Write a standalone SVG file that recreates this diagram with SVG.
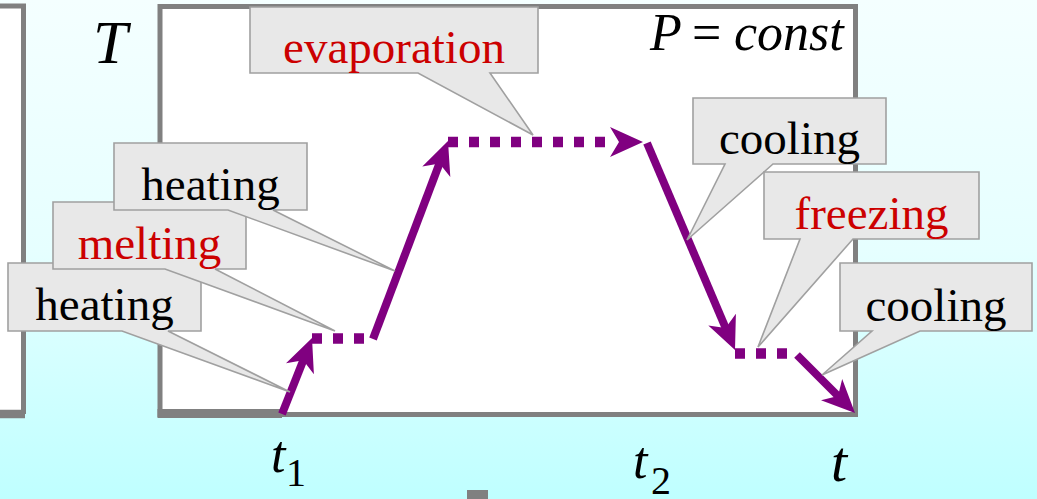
<svg xmlns="http://www.w3.org/2000/svg" width="1037" height="499" viewBox="0 0 1037 499">
<style>
.frame{fill:#ffffff;stroke:#808080;stroke-width:5}
.callout{fill:#e8e8e8;stroke:#a0a0a0;stroke-width:1.6}
.lbl{font-size:47px;text-anchor:middle}
.blk{fill:#000000}
.red{fill:#cc0000}
.math{font-style:italic;fill:#000000}
.sub{fill:#000000;font-size:40px}
.solid{fill:none;stroke:#800080;stroke-width:8}
.dots{fill:none;stroke:#800080;stroke-width:10.5;stroke-dasharray:10 11}
.head{fill:#800080}
</style>
<defs>
<linearGradient id="bg" x1="0" y1="0" x2="0" y2="1">
<stop offset="0" stop-color="#f4ffff"/>
<stop offset="0.5" stop-color="#e6ffff"/>
<stop offset="1" stop-color="#bfffff"/>
</linearGradient>
</defs>
<rect x="0" y="0" width="1037" height="499" fill="url(#bg)"/>
<path d="M0,6 H23.5 V414 H0 Z" fill="#ffffff"/>
<path d="M0,6 H23.5 V414" fill="none" stroke="#808080" stroke-width="5"/>
<rect class="frame" x="160" y="6.5" width="695.5" height="408"/>
<line x1="0" y1="414" x2="25" y2="414" stroke="#808080" stroke-width="8.5"/>
<line x1="157.5" y1="413.5" x2="282" y2="413.5" stroke="#808080" stroke-width="9"/>
<rect x="467" y="490" width="21" height="9" fill="#808080"/>
<text class="math" x="93" y="63" font-size="62" font-family="Times New Roman, Liberation Serif, serif">T</text>
<text class="math" y="50" font-size="52" font-family="Times New Roman, Liberation Serif, serif"><tspan x="650">P</tspan><tspan x="692" font-style="normal">=</tspan><tspan x="734">const</tspan></text>
<g id="axis-labels">
<text class="math" x="271" y="472" font-size="52" font-family="Times New Roman, Liberation Serif, serif">t</text>
<text class="sub" x="286" y="486" font-family="Times New Roman, Liberation Serif, serif">1</text>
<text class="math" x="633" y="478" font-size="52" font-family="Times New Roman, Liberation Serif, serif">t</text>
<text class="sub" x="651" y="494" font-family="Times New Roman, Liberation Serif, serif">2</text>
<text class="math" x="831" y="481" font-size="58" font-family="Times New Roman, Liberation Serif, serif">t</text>
</g>
<g id="connectors">
<path class="solid" d="M282,414 L304,358.5"/>
<polygon class="head" points="312,338 313.9,374.2 303.2,360.3 286,363.2"/>
<path class="dots" d="M312,338.5 H366"/>
<path class="solid" d="M373,339 L440.2,161.5"/>
<polygon class="head" points="448,141 450.3,177.1 439.5,163.4 422.3,166.5"/>
<path class="dots" d="M448,142 H608"/>
<polygon class="head" points="643,142 610,157 619,142 610,127"/>
<path class="solid" d="M647,143 L726.4,329.8"/>
<polygon class="head" points="735,350 708.3,325.5 725.6,327.9 735.9,313.8"/>
<path class="dots" d="M735,353.5 H789"/>
<path class="solid" d="M797,355 L839.5,397.5"/>
<polygon class="head" points="855,413 821,400.2 838,396 842.2,379"/>
</g>
<g id="heating-1">
<path class="callout" d="M8,263 H201 V331 H168 L290,392 L122,331 H8 Z"/>
<text class="lbl blk" x="104.5" y="320" font-family="Times New Roman, Liberation Serif, serif">heating</text>
</g>
<g id="melting">
<path class="callout" d="M53,202 H246 V269 H215 L335,331 L165,269 H53 Z"/>
<text class="lbl red" x="149.5" y="259" font-family="Times New Roman, Liberation Serif, serif">melting</text>
</g>
<g id="heating-2">
<path class="callout" d="M114,143 H307 V210 H273 L395,271 L228,210 H114 Z"/>
<text class="lbl blk" x="210.5" y="200" font-family="Times New Roman, Liberation Serif, serif">heating</text>
</g>
<g id="evaporation">
<path class="callout" d="M250,7 H538 V73 H490 L533,135 L418,73 H250 Z"/>
<text class="lbl red" x="394" y="63" font-family="Times New Roman, Liberation Serif, serif">evaporation</text>
</g>
<g id="cooling-1">
<path class="callout" d="M693,98 H886 V164 H773 L687,240 L725,164 H693 Z"/>
<text class="lbl blk" x="789.5" y="154" font-family="Times New Roman, Liberation Serif, serif">cooling</text>
</g>
<g id="freezing">
<path class="callout" d="M764,172 H979 V239 H853 L758,347 L800,239 H764 Z"/>
<text class="lbl red" x="871.5" y="229" font-family="Times New Roman, Liberation Serif, serif">freezing</text>
</g>
<g id="cooling-2">
<path class="callout" d="M840,263 H1032 V331 H920 L822,375 L872,331 H840 Z"/>
<text class="lbl blk" x="936" y="321" font-family="Times New Roman, Liberation Serif, serif">cooling</text>
</g>
</svg>
